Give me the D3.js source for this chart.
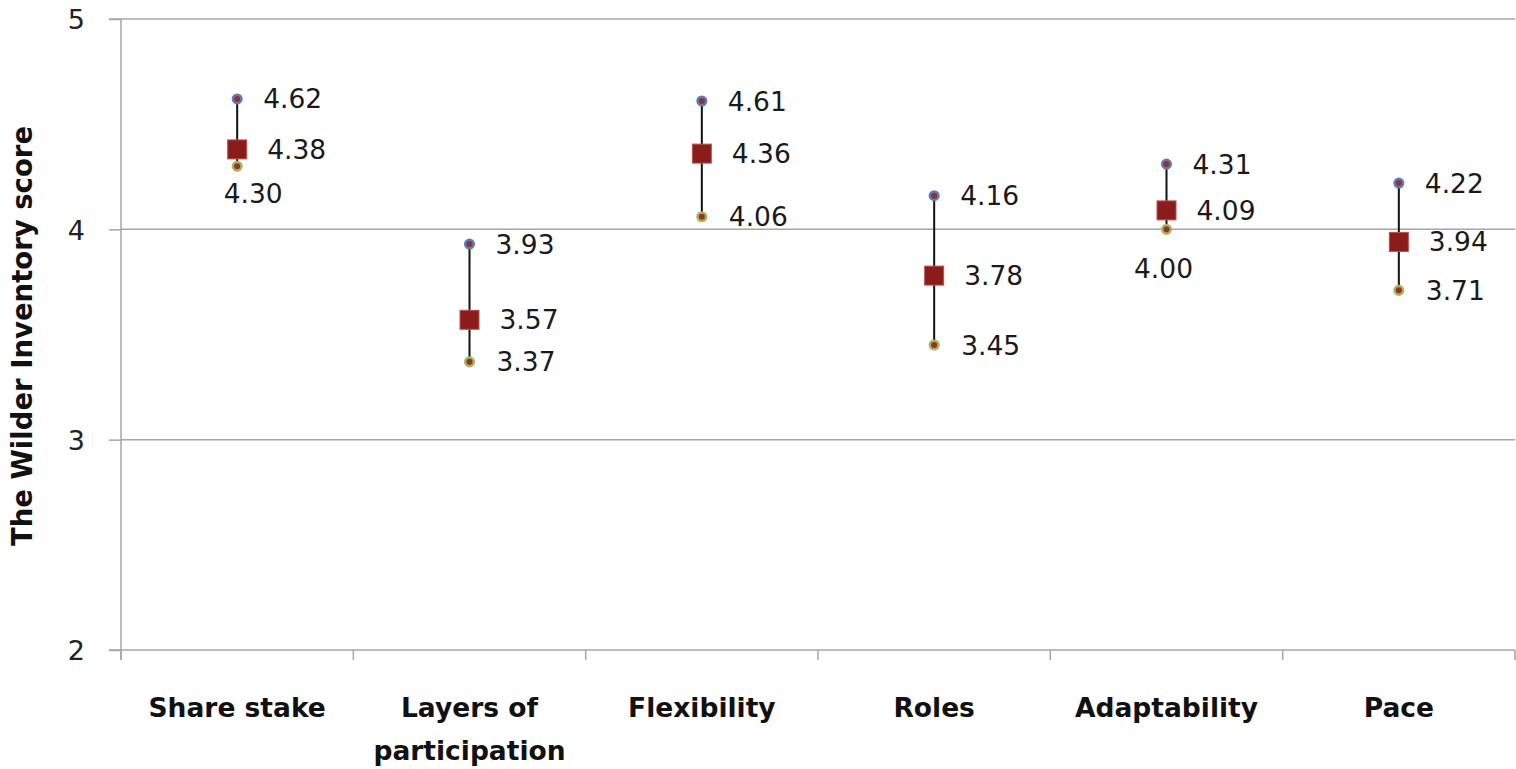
<!DOCTYPE html>
<html><head><meta charset="utf-8">
<script src="https://cdn.jsdelivr.net/npm/d3@7"></script>
<style>body{margin:0;background:#fff}svg{display:block}</style>
</head><body>
<svg id="c" width="1516" height="769"></svg>
<script>
const categories = ["Share stake", "Layers of participation", "Flexibility", "Roles", "Adaptability", "Pace"];
const highValues = [4.62, 3.93, 4.61, 4.16, 4.31, 4.22];
const meanValues = [4.38, 3.57, 4.36, 3.78, 4.09, 3.94];
const lowValues  = [4.30, 3.37, 4.06, 3.45, 4.00, 3.71];
const lowLabelBelow = [true, false, false, false, true, false];
const yTicks = [2, 3, 4, 5];

const svg = d3.select("#c");
const L = 121, R = 1515, T = 19, B = 650;
const x = d3.scaleBand().domain(categories).range([L, R]);
const y = d3.scaleLinear().domain([2, 5]).range([B, T]);
const font = "'DejaVu Sans', Verdana, sans-serif";
const grid = "#a6a6a6";

// gridlines
svg.append("g").selectAll("line").data(yTicks.filter(d => d > 2)).join("line")
  .attr("x1", L).attr("x2", R).attr("y1", d => y(d)).attr("y2", d => y(d))
  .attr("stroke", grid).attr("stroke-width", 1.5);

// y axis
const ya = svg.append("g").attr("transform", `translate(${L},0)`)
  .call(d3.axisLeft(y).tickValues(yTicks).tickSize(12).tickPadding(24).tickFormat(d3.format("d")));
ya.select(".domain").attr("stroke", grid).attr("stroke-width", 1.5).attr("d", `M-12,${T}H0V${B+10}`);
ya.selectAll(".tick line").attr("stroke", grid).attr("stroke-width", 1.5);
ya.selectAll(".tick text").attr("font-family", font).attr("font-size", 27).attr("fill", "#222").attr("dy", "0.36em");

// x axis
const xa = svg.append("g").attr("transform", `translate(0,${B})`);
xa.append("line").attr("x1", L - 12).attr("x2", R).attr("stroke", grid).attr("stroke-width", 1.5);
const bounds = categories.map(c => x(c)).concat([R]);
xa.selectAll("line.t").data(bounds).join("line").attr("class", "t")
  .attr("x1", d => d).attr("x2", d => d).attr("y1", 0).attr("y2", 10)
  .attr("stroke", grid).attr("stroke-width", 1.5);
const xt = xa.selectAll("text").data(categories).join("text")
  .attr("x", d => x(d) + x.bandwidth() / 2).attr("y", 67)
  .attr("text-anchor", "middle").attr("font-family", font).attr("font-weight", "bold")
  .attr("font-size", 26.5).attr("fill", "#111");
xt.each(function(d) {
  const words = d === "Layers of participation" ? ["Layers of", "participation"] : [d];
  d3.select(this).selectAll("tspan").data(words).join("tspan")
    .attr("x", x(d) + x.bandwidth() / 2).attr("dy", (w, i) => i ? 43 : 0).text(w => w);
});

// y title
svg.append("text").attr("transform", "translate(32,336) rotate(-90)")
  .attr("text-anchor", "middle").attr("font-family", font).attr("font-weight", "bold")
  .attr("font-size", 27.5).attr("fill", "#111").text("The Wilder Inventory score");

const cx = i => x(categories[i]) + x.bandwidth() / 2;
const idx = d3.range(categories.length);

// range lines
svg.append("g").selectAll("line").data(idx).join("line")
  .attr("x1", cx).attr("x2", cx).attr("y1", i => y(highValues[i])).attr("y2", i => y(lowValues[i]))
  .attr("stroke", "#111").attr("stroke-width", 2);

// high markers
svg.append("g").selectAll("circle").data(idx).join("circle")
  .attr("cx", cx).attr("cy", i => y(highValues[i])).attr("r", 4.3)
  .attr("fill", "#a52a2a").attr("stroke", "#4f81bd").attr("stroke-width", 2.5);
// low markers
svg.append("g").selectAll("circle").data(idx).join("circle")
  .attr("cx", cx).attr("cy", i => y(lowValues[i])).attr("r", 4.3)
  .attr("fill", "#a52a2a").attr("stroke", "#9bbb59").attr("stroke-width", 2.5);
// mean markers
svg.append("g").selectAll("rect").data(idx).join("rect")
  .attr("x", i => cx(i) - 9.5).attr("y", i => y(meanValues[i]) - 9.5)
  .attr("width", 19).attr("height", 19)
  .attr("fill", "#8b1c1c").attr("stroke", "#c0504d").attr("stroke-width", 1);

const fmt = d3.format(".2f");
const lab = svg.append("g").attr("font-family", font).attr("font-size", 26.5).attr("fill", "#1a1a1a");
lab.selectAll("text.h").data(idx).join("text").attr("class", "h")
  .attr("x", i => cx(i) + 26).attr("y", i => y(highValues[i])).attr("dy", "0.36em")
  .text(i => fmt(highValues[i]));
lab.selectAll("text.m").data(idx).join("text").attr("class", "m")
  .attr("x", i => cx(i) + 30).attr("y", i => y(meanValues[i])).attr("dy", "0.36em")
  .text(i => fmt(meanValues[i]));
lab.selectAll("text.l").data(idx).join("text").attr("class", "l")
  .attr("x", i => lowLabelBelow[i] ? cx(i) + (i === 0 ? 16 : -3) : cx(i) + 27)
  .attr("y", i => y(lowValues[i]) + (lowLabelBelow[i] ? (i === 0 ? 27 : 39) : 0))
  .attr("dy", "0.36em")
  .attr("text-anchor", i => lowLabelBelow[i] ? "middle" : "start")
  .text(i => fmt(lowValues[i]));
</script>
</body></html>
